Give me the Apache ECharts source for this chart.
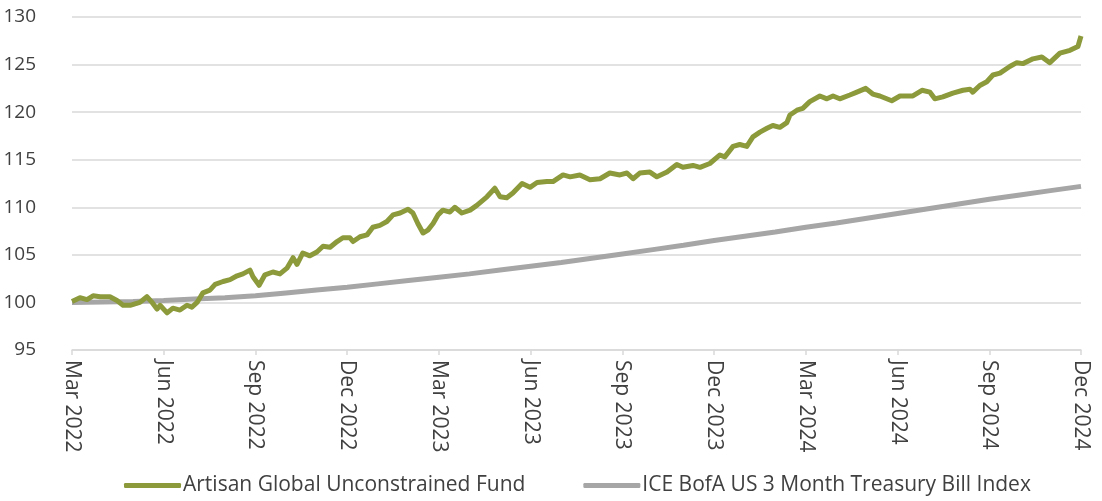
<!DOCTYPE html>
<html>
<head>
<meta charset="utf-8">
<title>Artisan Global Unconstrained Fund</title>
<script src="https://cdn.jsdelivr.net/npm/echarts@6/dist/echarts.min.js"></script>
<style>
    html, body { margin: 0; padding: 0; background: #fff; }
    #chart { width: 1102px; height: 501px; }
</style>
</head>
<body>
<div id="chart"></div>
<script>
// 月份序号：0 = 2022年3月，每3个月一个刻度
var tickLabels = ['Mar 2022', 'Jun 2022', 'Sep 2022', 'Dec 2022', 'Mar 2023', 'Jun 2023',
    'Sep 2023', 'Dec 2023', 'Mar 2024', 'Jun 2024', 'Sep 2024', 'Dec 2024'];

var seriesNames = ['Artisan Global Unconstrained Fund', 'ICE BofA US 3 Month Treasury Bill Index'];

// 基金
var fundMonths = [0, 0.26, 0.49, 0.69, 0.92, 1.24, 1.47, 1.67, 1.90, 2.22, 2.45, 2.62, 2.78, 2.88,
    3.11, 3.30, 3.53, 3.76, 3.92, 4.09, 4.28, 4.51, 4.68, 4.94, 5.17, 5.40, 5.59, 5.82, 5.92,
    6.12, 6.31, 6.57, 6.80, 7.03, 7.23, 7.36, 7.55, 7.78, 8.01, 8.21, 8.44, 8.67, 8.86, 9.09,
    9.19, 9.42, 9.65, 9.84, 10.07, 10.30, 10.50, 10.73, 10.99, 11.15, 11.31, 11.48, 11.64,
    11.81, 11.97, 12.13, 12.36, 12.52, 12.75, 13.02, 13.24, 13.57, 13.83, 14.00, 14.22, 14.42,
    14.72, 14.98, 15.21, 15.53, 15.73, 16.06, 16.29, 16.61, 16.94, 17.27, 17.59, 17.92, 18.15,
    18.35, 18.57, 18.90, 19.13, 19.46, 19.78, 19.98, 20.31, 20.54, 20.86, 21.19, 21.35, 21.62,
    21.84, 22.07, 22.27, 22.50, 22.73, 22.92, 23.15, 23.38, 23.48, 23.71, 23.90, 24.13, 24.46,
    24.69, 24.89, 25.11, 25.44, 25.67, 25.96, 26.19, 26.42, 26.81, 27.08, 27.50, 27.80, 28.06,
    28.22, 28.48, 28.81, 29.14, 29.37, 29.46, 29.69, 29.92, 30.12, 30.35, 30.67, 30.90, 31.10,
    31.43, 31.72, 31.98, 32.31, 32.64, 32.90, 33.00];
var fundValues = [100.1, 100.5, 100.3, 100.7, 100.6, 100.6, 100.2, 99.7, 99.7, 100.0, 100.6, 100.0,
    99.3, 99.7, 98.9, 99.4, 99.2, 99.7, 99.5, 100.0, 101.0, 101.3, 101.9, 102.2, 102.4, 102.8,
    103.0, 103.4, 102.7, 101.8, 102.9, 103.2, 103.0, 103.6, 104.7, 104.0, 105.2, 104.9, 105.3,
    105.9, 105.8, 106.4, 106.8, 106.8, 106.4, 106.9, 107.1, 107.9, 108.1, 108.5, 109.2, 109.4,
    109.8, 109.4, 108.3, 107.3, 107.6, 108.3, 109.2, 109.7, 109.5, 110.0, 109.4, 109.7, 110.2,
    111.1, 112.0, 111.1, 111.0, 111.5, 112.5, 112.1, 112.6, 112.7, 112.7, 113.4, 113.2, 113.4,
    112.9, 113.0, 113.6, 113.4, 113.6, 113.0, 113.6, 113.7, 113.2, 113.7, 114.5, 114.2, 114.4,
    114.2, 114.6, 115.5, 115.3, 116.4, 116.6, 116.4, 117.4, 117.9, 118.3, 118.6, 118.4, 118.9,
    119.7, 120.2, 120.4, 121.1, 121.7, 121.4, 121.7, 121.4, 121.8, 122.1, 122.5, 121.9, 121.7,
    121.2, 121.7, 121.7, 122.3, 122.1, 121.4, 121.6, 122.0, 122.3, 122.4, 122.1, 122.8, 123.2,
    123.9, 124.1, 124.8, 125.2, 125.1, 125.6, 125.8, 125.2, 126.2, 126.5, 126.9, 128.0];

// 3个月国库券指数（每月）
var billMonths = [0, 1, 2, 3, 4, 5, 6, 7, 8, 9, 10, 11, 12, 13, 14, 15, 16, 17, 18, 19, 20,
    21, 22, 23, 24, 25, 26, 27, 28, 29, 30, 31, 32, 33];
var billValues = [100.0, 100.05, 100.1, 100.2, 100.35, 100.5, 100.7, 101.0, 101.3, 101.6,
    101.95, 102.3, 102.65, 103.0, 103.4, 103.8, 104.2, 104.65, 105.1, 105.55, 106.0, 106.5,
    106.95, 107.4, 107.9, 108.35, 108.85, 109.35, 109.85, 110.35, 110.85, 111.3, 111.75, 112.2];

var fontName = '"Open Sans"';
var textColor = '#404040';
var gridColor = '#d9d9d9';

var chartObj = {
    colors : ['#8c9a3c', '#a6a6a6'],
    init : function() {
        var mychart = echarts.init(document.getElementById('chart'));
        mychart.setOption(this.buildOption());
    },
    pairs : function(xs, ys) {
        var out = [];
        xs.forEach(function(item, index) {
            out.push([item, ys[index]]);
        });
        return out;
    },
    buildOption : function() {
        var that = this;
        return {
            animation : false,
            textStyle : {
                fontFamily : fontName
            },
            grid : {
                left : 72,
                right : 21,
                top : 17,
                bottom : 151,
                containLabel : false
            },
            legend : {
                left : 119,
                bottom : 0,
                icon : 'roundRect',
                itemWidth : 57,
                itemHeight : 5,
                itemGap : 58,
                textStyle : {
                    color : textColor,
                    fontSize : 21,
                    fontFamily : fontName,
                    padding : [0, 0, 0, -3]
                },
                data : seriesNames
            },
            xAxis : {
                type : 'value',
                min : 0,
                max : 33,
                interval : 3,
                axisLine : {
                    show : true,
                    lineStyle : { color : gridColor, width : 1.5 }
                },
                axisTick : {
                    show : true,
                    length : 5,
                    lineStyle : { color : gridColor, width : 1.5 }
                },
                splitLine : { show : false },
                axisLabel : {
                    rotate : -90,
                    margin : 10,
                    color : textColor,
                    fontSize : 21,
                    fontFamily : fontName,
                    formatter : function(val) {
                        return tickLabels[Math.round(val / 3)] || '';
                    }
                }
            },
            yAxis : {
                type : 'value',
                min : 95,
                max : 130,
                interval : 5,
                axisLine : { show : false },
                axisTick : { show : false },
                splitLine : {
                    lineStyle : { color : gridColor, width : 1.5 }
                },
                axisLabel : {
                    margin : 36,
                    color : textColor,
                    fontSize : 19,
                    fontFamily : fontName
                }
            },
            series : [{
                name : seriesNames[1],
                type : 'line',
                data : that.pairs(billMonths, billValues),
                symbol : 'none',
                z : 2,
                lineStyle : { color : that.colors[1], width : 5 },
                itemStyle : { color : that.colors[1] }
            }, {
                name : seriesNames[0],
                type : 'line',
                data : that.pairs(fundMonths, fundValues),
                symbol : 'none',
                z : 3,
                lineStyle : { color : that.colors[0], width : 5, join : 'round' },
                itemStyle : { color : that.colors[0] }
            }]
        };
    }
};

chartObj.init();
</script>
</body>
</html>
